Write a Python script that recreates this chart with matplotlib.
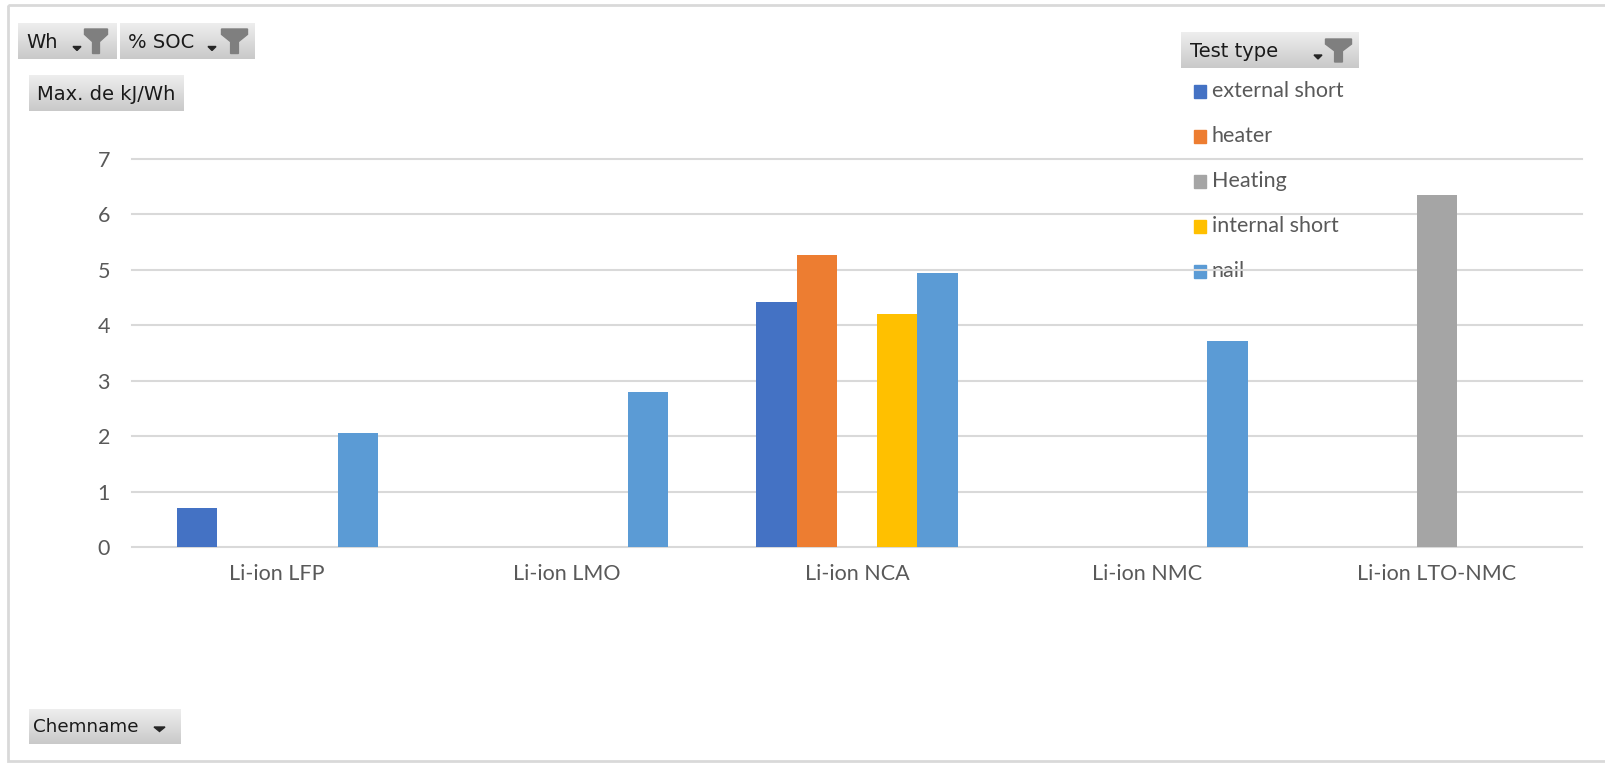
import numpy as np
import matplotlib
matplotlib.use("Agg")
import matplotlib.pyplot as plt
from matplotlib.colors import LinearSegmentedColormap
from matplotlib.patches import Polygon, Rectangle

# ---- data ----
categories = ["Li-ion LFP", "Li-ion LMO", "Li-ion NCA", "Li-ion NMC", "Li-ion LTO-NMC"]
series_names = ["external short", "heater", "Heating", "internal short", "nail"]
series_colors = ["#4472C4", "#ED7D31", "#A5A5A5", "#FFC000", "#5B9BD5"]

# Max. kJ/Wh per chemistry, nan = no test of that type
external_short = [0.70, np.nan, 4.43, np.nan, np.nan]
heater = [np.nan, np.nan, 5.27, np.nan, np.nan]
heating = [np.nan, np.nan, np.nan, np.nan, 6.35]
internal_short = [np.nan, np.nan, 4.21, np.nan, np.nan]
nail = [2.06, 2.80, 4.94, 3.72, np.nan]
y_ticks = [0, 1, 2, 3, 4, 5, 6, 7]

W, H = 1606, 765
plt.rcParams['font.family'] = ['Lato', 'DejaVu Sans']
fig = plt.figure(figsize=(W / 100, H / 100), dpi=100)

# pixel-space layer for the pivot buttons, legend and frame
bg = fig.add_axes([0, 0, 1, 1], zorder=0)
bg.axis("off")

ax = fig.add_axes([132.3 / W, 1 - 547.3 / H, (1581.7 - 132.3) / W, (547.3 - 159) / H], zorder=1)
ax.patch.set_alpha(0)

series = [external_short, heater, heating, internal_short, nail]
x = np.arange(len(categories))
bw = 0.139
for i, (name, vals, col) in enumerate(zip(series_names, series, series_colors)):
    ax.bar(x + (i - 2) * bw, vals, width=bw, color=col, label=name, zorder=2)

ax.set_xlim(-0.5, len(categories) - 0.5)
ax.set_ylim(0, 7)
ax.set_yticks(y_ticks)
ax.set_xticks(x, categories)
ax.yaxis.grid(True, color="#D9D9D9", lw=1.5)
for gl in ax.get_ygridlines():
    gl.set_clip_on(False)
ax.set_axisbelow(True)
for s in ax.spines.values():
    s.set_visible(False)
ax.tick_params(axis="both", length=0, labelsize=15.5, colors="#595959")
ax.tick_params(axis="y", pad=16)
ax.tick_params(axis="x", pad=12)

# ---- pivot field buttons ----
btn_cmap = LinearSegmentedColormap.from_list("btn", ["#EEEEEE", "#C9C9C9"])
grad = np.linspace(0, 1, 60).reshape(-1, 1)


def button(x0, y0, x1, y1, label, tx, fs=14):
    bg.imshow(grad, extent=(x0, x1, y1, y0), cmap=btn_cmap, aspect="auto", zorder=1)
    bg.text(tx, (y0 + y1) / 2 + 1, label, va="center", ha="left", fontsize=fs,
            family="DejaVu Sans", color="#1A1A1A", zorder=3)


def arrow(xa, ya, w=8, h=4):
    bg.add_patch(Polygon([(xa, ya), (xa + w, ya), (xa + w / 2, ya + h)],
                         closed=True, color="#262626", zorder=3))


def funnel(x0, y0, x1, y1):
    w = x1 - x0
    h = y1 - y0
    cx = (x0 + x1) / 2
    pts = [(x0, y0), (x1, y0), (x1, y0 + 0.22 * h), (cx + 0.15 * w, y0 + 0.52 * h),
           (cx + 0.15 * w, y1), (cx - 0.15 * w, y1), (cx - 0.15 * w, y0 + 0.52 * h),
           (x0, y0 + 0.22 * h)]
    bg.add_patch(Polygon(pts, closed=True, color="#7F7F7F", zorder=3))


button(18, 23, 117, 59, "Wh", 26)
arrow(73, 46.5)
funnel(84.5, 29, 107.5, 53.5)

button(120, 23, 255, 59, "% SOC", 128)
arrow(208, 46.5)
funnel(221.5, 29, 247.5, 53.5)

button(29, 75, 184, 111, "Max. de kJ/Wh", 37)

button(1181, 32, 1359, 68, "Test type", 1190)
arrow(1314, 55)
funnel(1325.5, 39, 1351.5, 62)

button(29, 709, 181, 744, "Chemname", 33, fs=13.2)
arrow(154, 727, w=11, h=4.5)

# ---- legend (manual, Excel style) ----
for i, (name, col) in enumerate(zip(series_names, series_colors)):
    yc = 91 + i * 45
    bg.add_patch(Rectangle((1194, yc - 6.5), 12.5, 13, color=col, zorder=2))
    bg.text(1212, yc, name, va="center", ha="left", fontsize=15.5,
            color="#595959", zorder=2)

# outer frame of the chart area
bg.add_patch(Rectangle((8, 5), W, 756, fill=False, edgecolor="#D9D9D9", lw=2, zorder=1))

bg.set_xlim(0, W)
bg.set_ylim(H, 0)

fig.savefig("out.png", dpi=100, facecolor="white")
